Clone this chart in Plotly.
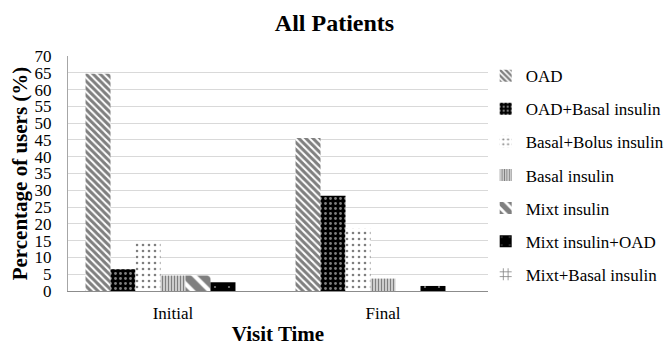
import plotly.graph_objects as go

# Visit time categories
visits = ["Initial", "Final"]

# Treatment regimens (legend order)
regimens = [
    "OAD",
    "OAD+Basal insulin",
    "Basal+Bolus insulin",
    "Basal insulin",
    "Mixt insulin",
    "Mixt insulin+OAD",
    "Mixt+Basal insulin",
]

# Percentage of users per regimen at each visit
initial_pct = [64.7, 6.5, 14.7, 4.6, 4.6, 2.6, 0.0]
final_pct = [45.6, 28.4, 18.7, 3.7, 0.0, 1.5, 0.0]

y_ticks = list(range(0, 75, 5))

# Black & white fill patterns, one per regimen
patterns = [
    dict(shape="\\", fgcolor="black", bgcolor="white", size=5, solidity=0.6),
    dict(shape=".", fgcolor="white", bgcolor="black", size=5, solidity=0.25),
    dict(shape=".", fgcolor="black", bgcolor="white", size=6, solidity=0.15),
    dict(shape="|", fgcolor="black", bgcolor="white", size=3, solidity=0.6),
    dict(shape="\\", fgcolor="black", bgcolor="white", size=12, solidity=0.65),
    dict(shape=".", fgcolor="white", bgcolor="black", size=14, solidity=0.02),
    dict(shape="+", fgcolor="black", bgcolor="white", size=6, solidity=0.3),
]

FONT = "Liberation Serif, Times New Roman, serif"

fig = go.Figure()
for i, name in enumerate(regimens):
    fig.add_trace(go.Bar(
        x=visits,
        y=[initial_pct[i], final_pct[i]],
        name=name,
        legendgroup=name,
        marker=dict(color="white", line=dict(width=0), pattern=patterns[i]),
    ))

fig.update_layout(
    width=669,
    height=346,
    margin=dict(l=68, r=181, t=56, b=55, autoexpand=False),
    paper_bgcolor="white",
    plot_bgcolor="white",
    font=dict(family=FONT, size=17, color="black"),
    barmode="group",
    bargap=0.167,
    bargroupgap=0,
    title=dict(
        text="<b>All Patients</b>",
        x=0.5, xref="container", xanchor="center",
        y=0.935, yref="container", yanchor="middle",
        font=dict(family=FONT, size=24, color="black"),
    ),
    showlegend=True,
    legend=dict(
        x=0.726, xref="container", xanchor="left",
        y=0.494, yref="container", yanchor="middle",
        maxheight=340,
        font=dict(family=FONT, size=17, color="black"),
        tracegroupgap=8,
        itemwidth=30,
        bgcolor="rgba(0,0,0,0)",
    ),
)

fig.update_xaxes(
    automargin=False,
    showline=True, linecolor="#8c8c8c", linewidth=1,
    ticks="", showgrid=False,
    ticklabelstandoff=7,
    tickfont=dict(family=FONT, size=17, color="black"),
    title=dict(text="<b>Visit Time</b>", standoff=9,
               font=dict(family=FONT, size=21, color="black")),
)

fig.update_yaxes(
    automargin=False,
    range=[0, 70],
    tickvals=y_ticks,
    showline=True, linecolor="#a6a6a6", linewidth=1,
    showgrid=True, gridcolor="#d9d9d9", gridwidth=1,
    zeroline=False,
    ticks="", ticklen=0,
    ticklabelstandoff=12,
    tickfont=dict(family=FONT, size=17, color="black"),
    title=dict(text="<b>Percentage of users (%)</b>", standoff=1,
               font=dict(family=FONT, size=21, color="black")),
)

fig.write_html("out.html")
